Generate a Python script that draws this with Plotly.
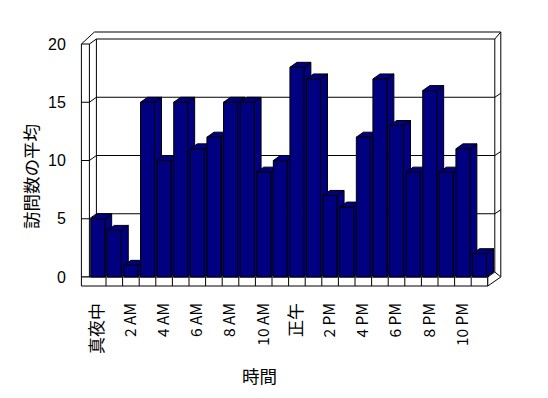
import plotly.graph_objects as go

# ---------------- data ----------------
hours = list(range(24))
visits = [5, 4, 1, 15, 10, 15, 11, 12, 15, 15, 9, 10,
          18, 17, 7, 6, 12, 17, 13, 9, 16, 9, 11, 2]
tick_idx = [0, 2, 4, 6, 8, 10, 12, 14, 16, 18, 20, 22]
tick_labels = ["真夜中", "2 AM", "4 AM", "6 AM", "8 AM", "10 AM",
               "正午", "2 PM", "4 PM", "6 PM", "8 PM", "10 PM"]
y_ticks = [0, 5, 10, 15, 20]
x_title = "時間"
y_title = "訪問数の平均"

# ---------------- layout geometry ----------------
OFF = 8                                   # page body margin
W, H = 548 - OFF, 398 - OFF
PL, PR, PT, PB = 79 - OFF, 505 - OFF, 30 - OFF, 288 - OFF   # plot area px
X0, CW = 89.4 - OFF, 16.6                 # front-plane left px, category width px
Y0, UH = 277.0 - OFF, 11.65               # value 0 px, px per unit

def ux(p):
    return (p - X0) / CW - 0.5

def vy(p):
    return (Y0 - p) / UH

def px_x(p):
    return (p - OFF - PL) / (PR - PL)

def px_y(p):
    return (PB - (p - OFF)) / (PB - PT)

N = len(hours)
YMAX = 20
BW = 0.84
DX, DY = 7 / CW, 5 / UH          # depth offset
THX, THY = 8 / CW, 7 / UH        # wall thickness
FB = -9 / UH                     # floor bottom
LFT = -0.5 - THX                 # left wall outer x
RIN = N - 0.5 + DX               # back wall inner right
ROUT = RIN + 6 / CW              # outer right
TOUT = YMAX + DY + THY           # outer top

NAVY = "#000080"
shapes = []

def line(x0, y0, x1, y1):
    shapes.append(dict(type="line", x0=x0, y0=y0, x1=x1, y1=y1,
                       xref="x", yref="y", layer="below",
                       line=dict(color="black", width=1)))

def path(pts, fill="white"):
    d = "M " + " L ".join(f"{a},{b}" for a, b in pts) + " Z"
    shapes.append(dict(type="path", path=d, xref="x", yref="y", layer="below",
                       fillcolor=fill, line=dict(color="black", width=1)))

# back wall & frame
path([(-0.5 + DX, DY), (RIN, DY), (RIN, YMAX + DY), (-0.5 + DX, YMAX + DY)])
# left wall front face
path([(LFT, 0), (-0.5, 0), (-0.5, YMAX), (LFT, YMAX)])
# top outer
line(LFT, YMAX, LFT + 13 / CW, TOUT)
line(LFT + 13 / CW, TOUT, ROUT, TOUT)
line(-0.5, YMAX, -0.5 + DX, YMAX + DY)
line(RIN, YMAX + DY, ROUT, TOUT)
line(ROUT, TOUT, ROUT, 0)
# grid lines
for g in y_ticks[1:-1]:
    line(-0.5 + DX, g + DY, RIN, g + DY)
    line(-0.5, g, -0.5 + DX, g + DY)
    line(LFT, g, -0.5, g)
    line(RIN, g + DY, ROUT, g + DY + 4 / UH)
# floor
path([(LFT, FB), (N - 0.5, FB), (N - 0.5, 0), (LFT, 0)])
for i in range(N - 1):
    line(i + 0.5, FB, i + 0.5, 0)
path([(N - 0.5, FB), (ROUT, 0), (RIN, DY), (N - 0.5, 0)])

# bar tops and sides (3D faces), drawn left to right
for i, h in zip(hours, visits):
    xl, xr = i - BW / 2, i + BW / 2
    path([(xr, 0), (xr + DX, DY), (xr + DX, h + DY), (xr, h)], fill=NAVY)
    path([(xl, h), (xr, h), (xr + DX, h + DY), (xl + DX, h + DY)], fill=NAVY)

def fmt_tick(t):
    size = 17 if any(ord(c) > 0x3000 for c in t) else 15.5
    return f'<span style="font-size:{size}px">{t}</span>'

FONT = "Liberation Sans, Arial, Noto Sans CJK JP, sans-serif"
XFONT = "Noto Sans CJK JP, Liberation Sans, sans-serif"

fig = go.Figure()
fig.add_trace(go.Bar(x=hours, y=visits, width=BW,
                     marker=dict(color=NAVY, line=dict(color="black", width=1)),
                     hoverinfo="x+y"))

fig.update_layout(
    template="none",
    width=W, height=H,
    margin=dict(l=PL, r=W - PR, t=PT, b=H - PB, pad=0, autoexpand=False),
    paper_bgcolor="white", plot_bgcolor="white",
    showlegend=False,
    shapes=shapes,
    font=dict(family=FONT, size=15, color="black"),
    xaxis=dict(range=[ux(PL), ux(PR)], tickmode="array", automargin=False,
               tickvals=tick_idx, ticktext=[fmt_tick(t) for t in tick_labels],
               tickangle=-90, showgrid=False, zeroline=False, showline=False,
               ticks="outside", ticklen=8, tickcolor="rgba(0,0,0,0)",
               tickfont=dict(family=XFONT, size=15, color="black")),
    yaxis=dict(range=[vy(PB), vy(PT)], tickmode="array", tickvals=y_ticks,
               automargin=False,
               showgrid=False, zeroline=False, showline=False,
               ticks="outside", ticklen=9, tickcolor="rgba(0,0,0,0)",
               tickfont=dict(family=FONT, size=16, color="black")),
    annotations=[
        dict(text=x_title, x=px_x(259), y=px_y(375),
             xref="paper", yref="paper", showarrow=False,
             xanchor="center", yanchor="middle",
             font=dict(family="Noto Sans CJK JP", size=17.5, color="black")),
        dict(text=y_title, x=px_x(30), y=px_y(177),
             xref="paper", yref="paper", showarrow=False, textangle=-90,
             xanchor="center", yanchor="middle",
             font=dict(family="Noto Sans CJK JP", size=17.5, color="black")),
    ],
)

fig.write_html("out.html")
